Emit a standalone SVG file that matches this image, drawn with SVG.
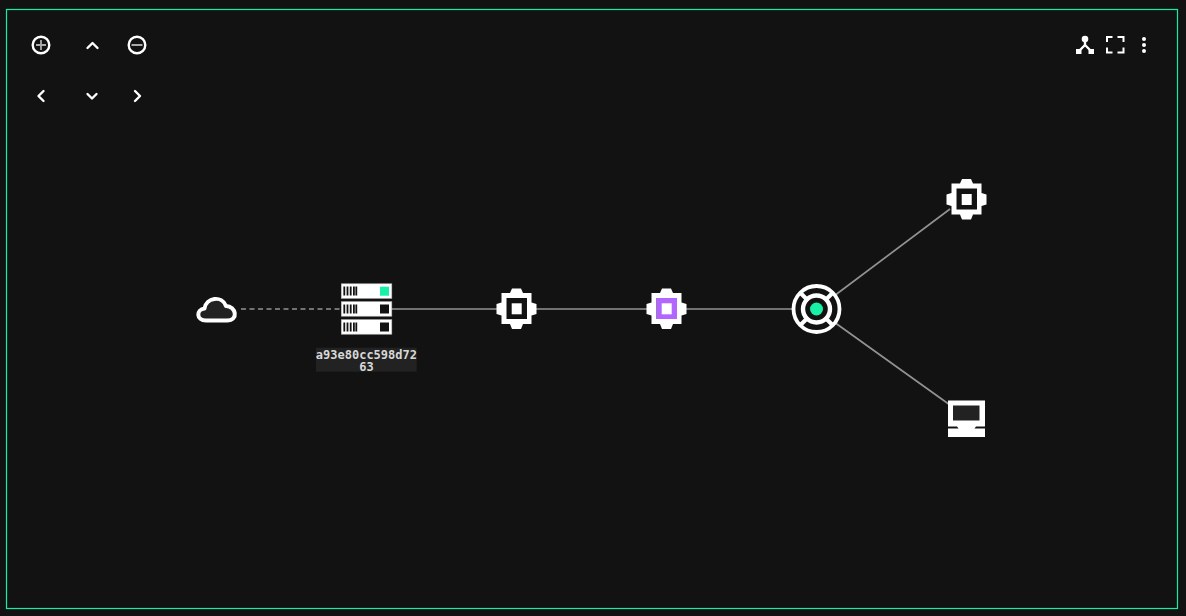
<svg xmlns="http://www.w3.org/2000/svg" width="1186" height="616" viewBox="0 0 1186 616">
<style>
.w{fill:#fff}
.d{fill:#121212}
.ic{fill:none;stroke:#fff;stroke-width:2.400;stroke-linecap:round;stroke-linejoin:round}
.ln{fill:none;stroke:#929292;stroke-width:1.700}
.lb{font-family:"DejaVu Sans Mono","Liberation Mono",monospace;font-size:12px;font-weight:700;fill:#d8d8d8;text-anchor:middle}
</style>
<defs>
<g id="chip">
<path class="w" d="M-15-16H-6.500L-4.500-20.500H4.500L6.500-16H15V-6.500L20-5V5L15 6.500V15H6.500L4.500 20H-4.500L-6.500 15H-15V6.500L-20 5V-5L-15-6.500Z"/>
<rect class="d" x="-10" y="-11" width="20.500" height="21"/>
</g>
<g id="rack">
<rect class="w" x="0" y="0" width="50.500" height="14.500" stroke="#bbb" stroke-width=".6"/>
<path d="M3 2.800V11.800M6.200 2.800V11.800M9.400 2.800V11.800M12.600 2.800V11.800M15 2.800V11.800" stroke="#121212" stroke-width="1.800"/>
</g>
</defs>
<rect width="1186" height="616" fill="#121212"/>
<rect x="6.500" y="9.500" width="1171" height="599" fill="none" stroke="#10f0a0" stroke-width="1.200"/>
<g id="connectors">
<path class="ln" d="M241 309H340" stroke-dasharray="5 3.500"/>
<path class="ln" d="M391 309H497M536 309H647M686 309H792M834 296L950 209M834 322L950 405"/>
</g>
<g id="zoom-in"><circle class="ic" cx="41" cy="45" r="8.300"/><path d="M36 45H46M41 40V50" stroke="#aaa" stroke-width="1.800"/></g>
<g id="pan-up"><path class="ic" d="M87.500 48L92.500 43L97.500 48"/></g>
<g id="zoom-out"><circle class="ic" cx="137" cy="45" r="8.300"/><path d="M131.500 45H142.500" stroke="#aaa" stroke-width="2"/></g>
<g id="pan-left"><path class="ic" d="M43.500 91L38.500 96L43.500 101"/></g>
<g id="pan-down"><path class="ic" d="M87.500 94L92 98.500L96.500 94"/></g>
<g id="pan-right"><path class="ic" d="M135 91L140 96L135 101"/></g>
<g id="layout">
<circle class="w" cx="1085" cy="39" r="3.300"/><rect class="w" x="1076" y="49" width="5.500" height="5"/><rect class="w" x="1088.500" y="49" width="5.500" height="5"/>
<path d="M1085 40V45L1079 51M1085 45L1091 51" fill="none" stroke="#fff" stroke-width="2.400"/>
</g>
<g id="fullscreen"><path d="M1107 42V37H1112.500M1117.500 37H1123.500V42M1123.500 47.500V52.500H1117.500M1112.500 52.500H1107V47.500" fill="none" stroke="#fff" stroke-width="2"/></g>
<g id="menu"><circle class="w" cx="1144" cy="39" r="2"/><circle class="w" cx="1144" cy="45" r="2"/><circle class="w" cx="1144" cy="51" r="2"/></g>
<g id="cloud"><path d="M206 320.500C196 320.500 196 309.500 204.500 308.500C206 297.500 222 295 226 306C236 306 239 320.500 227 320.500Z" fill="#222" stroke="#fff" stroke-width="4" stroke-linejoin="round"/></g>
<g id="server">
<use href="#rack" x="341.300" y="283.800"/><use href="#rack" x="341.300" y="301.700"/><use href="#rack" x="341.300" y="319.700"/>
<rect x="380" y="286.700" width="9" height="9" fill="#17f0a5"/><rect class="d" x="380" y="304.500" width="9" height="9"/><rect class="d" x="380" y="322.500" width="9" height="9"/>
<rect x="316" y="347.700" width="100.700" height="24" fill="#222"/>
<text class="lb" x="366.400" y="359">a93e80cc598d72</text>
<text class="lb" x="366.400" y="371">63</text>
</g>
<g id="chip-1"><use href="#chip" x="516.500" y="309"/><rect class="w" x="511.700" y="303.300" width="10" height="11"/></g>
<g id="chip-2"><use href="#chip" x="666.500" y="309"/><rect x="656.500" y="298" width="20.500" height="21" fill="#b366ff"/><rect class="w" x="661.700" y="303.300" width="10" height="11"/></g>
<g id="hub">
<circle cx="816.500" cy="309" r="23" fill="none" stroke="#fff" stroke-width="3.800"/>
<circle cx="816.500" cy="309" r="13.500" fill="none" stroke="#fff" stroke-width="4.400"/>
<path d="M800 292.500L808 300.500M833 292.500L825 300.500M800 325.500L808 317.500M833 325.500L825 317.500" stroke="#fff" stroke-width="4"/>
<circle cx="816.500" cy="309" r="6.500" fill="#17f0a5"/>
</g>
<g id="chip-3"><use href="#chip" x="966.500" y="199.500"/><rect class="w" x="961.700" y="194" width="10" height="11"/></g>
<g id="desktop">
<path class="w" d="M948 400.500H985V426.500H976L974.500 428.500H985V437H948V428.500H958.500L957 426.500H948Z"/>
<rect x="953" y="405.500" width="26.500" height="15" fill="#222"/>
</g>
</svg>
